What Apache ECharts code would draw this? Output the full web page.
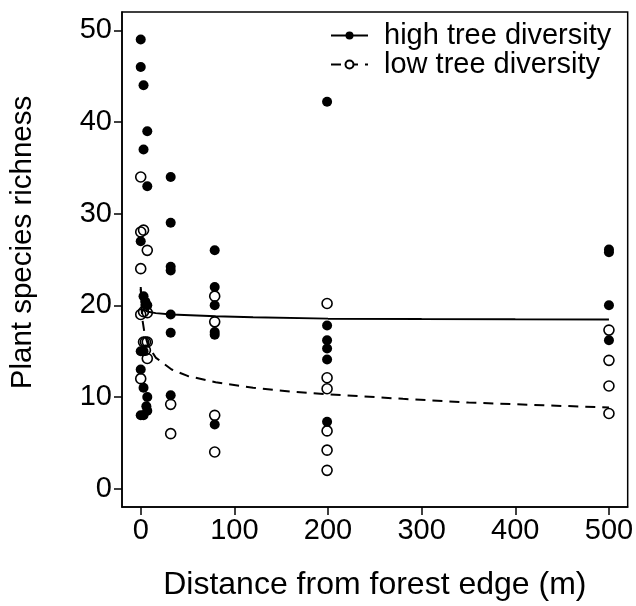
<!DOCTYPE html>
<html>
<head>
<meta charset="utf-8">
<script src="https://cdn.jsdelivr.net/npm/echarts@6/dist/echarts.min.js"></script>
<style>
  html, body { margin: 0; padding: 0; background: #fff; }
  #chart { width: 636px; height: 606px; }
</style>
</head>
<body>
<div id="chart"></div>
<script>
// tick values
const xTicks = [0, 100, 200, 300, 400, 500];
const yTicks = [0, 10, 20, 30, 40, 50];

// plots with high tree diversity (filled)
const highPoints = [
  [0, 49], [0, 46], [0, 27], [0, 15], [0, 13], [0, 8],
  [3, 44], [3, 37], [3, 21], [3, 15], [3, 11], [3, 8], [5, 20.4],
  [7, 39], [7, 33], [7, 20], [7, 10], [6, 9], [7, 8.5],
  [32, 34], [32, 29], [32, 24.2], [32, 23.8], [32, 19], [32, 17], [32, 10.2],
  [79, 26], [79, 22], [79, 20], [79, 17.1], [79, 16.8], [79, 7],
  [199, 42.2], [199, 17.8], [199, 16.2], [199, 15.3], [199, 14.1], [199, 7.3],
  [500, 26.1], [500, 25.8], [500, 20], [500, 16.2]
];

// plots with low tree diversity (open)
const lowPoints = [
  [0, 34], [0, 28], [0, 24], [0, 19], [0, 12],
  [3, 28.2], [3, 19.3], [3, 16],
  [5, 16], [5, 15.1],
  [7, 26], [7, 19.2], [7, 16], [7, 14.2],
  [32, 9.2], [32, 6],
  [79, 21], [79, 18.2], [79, 8], [79, 4],
  [199, 20.2], [199, 12.1], [199, 10.9], [199, 6.3], [199, 4.2], [199, 2],
  [500, 17.3], [500, 14], [500, 11.2], [500, 8.2]
];

// fitted curves
const highCurve = [
  [0, 21.8], [1, 20.3], [2, 19.8], [4, 19.5], [8, 19.3], [16, 19.15], [33, 19.0],
  [80, 18.8], [120, 18.7], [200, 18.55], [300, 18.5], [400, 18.47], [500, 18.45]
];
const lowCurve = [
  [0, 22.0], [1, 19.5], [2, 18.3], [4, 17.0], [8, 15.6], [16, 14.3], [33, 13.0],
  [50, 12.3], [80, 11.6], [120, 11.0], [160, 10.6], [200, 10.3], [280, 9.8],
  [350, 9.4], [430, 9.1], [500, 8.85]
];

const FONT = "'Liberation Sans', Arial, Helvetica, sans-serif";
const chart = echarts.init(document.getElementById("chart"));

chart.setOption({
  animation: false,
  backgroundColor: "#fff",
  textStyle: { fontFamily: FONT, color: "#000" },
  grid: {
    left: 118, right: 8, top: 12, bottom: 97,
    show: true, borderColor: "#000", borderWidth: 1.5
  },
  legend: {
    left: 330,
    top: 21,
    orient: "vertical",
    itemWidth: 37,
    itemHeight: 10,
    itemGap: 0,
    padding: 0,
    data: ["high tree diversity", "low tree diversity"],
    textStyle: { fontSize: 29, lineHeight: 28, color: "#000", fontFamily: FONT, padding: [0, 0, 0, 11] }
  },
  xAxis: {
    type: "value",
    min: -20,
    max: 520,
    splitLine: { show: false },
    axisLine: { show: true, onZero: false, lineStyle: { color: "#000", width: 1.5 } },
    axisTick: { show: true, customValues: xTicks, length: 8, lineStyle: { color: "#000", width: 1.5 } },
    axisLabel: { customValues: xTicks, fontSize: 29, color: "#000", margin: 9, fontFamily: FONT },
    name: "Distance from forest edge (m)",
    nameLocation: "middle",
    nameGap: 62,
    nameTextStyle: { fontSize: 32, color: "#000", fontFamily: FONT }
  },
  yAxis: {
    type: "value",
    min: -2,
    max: 52,
    splitLine: { show: false },
    axisLine: { show: true, onZero: false, lineStyle: { color: "#000", width: 1.5 } },
    axisTick: { show: true, customValues: yTicks, length: 8, lineStyle: { color: "#000", width: 1.5 } },
    axisLabel: { customValues: yTicks, fontSize: 29, color: "#000", margin: 10, fontFamily: FONT },
    name: "Plant species richness",
    nameLocation: "middle",
    nameGap: 84,
    nameTextStyle: { fontSize: 29.5, color: "#000", fontFamily: FONT, padding: [0, 0, 0, 34] }
  },
  series: [
    {
      name: "high tree diversity",
      type: "line",
      data: highCurve,
      symbol: "circle",
      showSymbol: false,
      silent: true,
      z: 3,
      lineStyle: { color: "#000", width: 2 },
      itemStyle: { color: "#000" }
    },
    {
      name: "low tree diversity",
      type: "line",
      data: lowCurve,
      symbol: "circle",
      showSymbol: false,
      silent: true,
      z: 3,
      lineStyle: { color: "#000", width: 2, type: [10, 7] },
      itemStyle: { color: "#fff", borderColor: "#000", borderWidth: 1.5 }
    },
    {
      name: "high points",
      type: "scatter",
      data: highPoints,
      symbol: "circle",
      symbolSize: 10,
      z: 4,
      itemStyle: { color: "#000", opacity: 1 }
    },
    {
      name: "low points",
      type: "scatter",
      data: lowPoints,
      symbol: "circle",
      symbolSize: 10,
      z: 5,
      itemStyle: { color: "rgba(255,255,255,0)", borderColor: "#000", borderWidth: 1.6, opacity: 1 }
    }
  ]
});
</script>
</body>
</html>
